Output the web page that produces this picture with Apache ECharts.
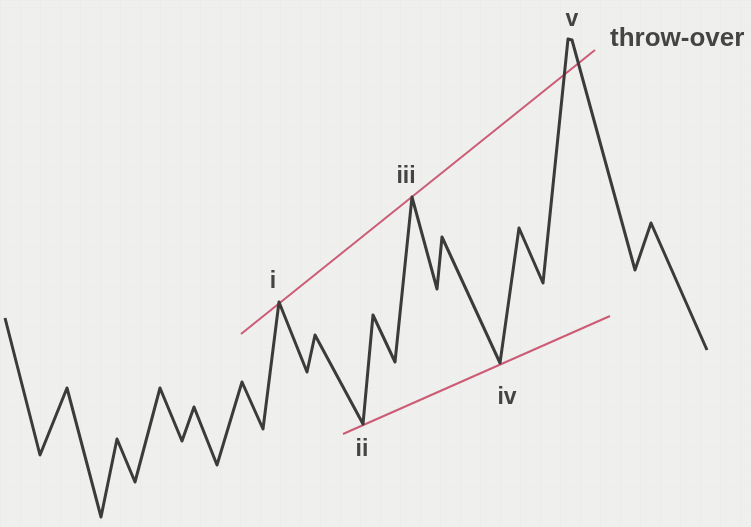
<!DOCTYPE html>
<html>
<head>
<meta charset="utf-8">
<script src="https://cdn.jsdelivr.net/npm/echarts@6/dist/echarts.min.js"></script>
<style>
  html, body { margin: 0; padding: 0; background: #efefed; }
  #chart { width: 751px; height: 527px; }
</style>
</head>
<body>
<div id="chart"></div>
<script>
// wave path: time / price
const waveTime = [5, 40, 67, 101, 117, 135, 160, 182, 194, 217, 242, 263, 279, 307, 315, 363, 373, 395, 412, 437, 442, 500, 519, 543, 568, 572, 635, 651, 707]
const wavePrice = [209, 72, 139, 10, 88, 45, 139, 86, 120, 62, 145, 98, 225, 155, 192, 103, 212, 165, 330, 238, 290, 164, 299, 244, 488, 487, 257, 304, 177]

// channel lines (two end points each)
const upperTime = [241, 595]
const upperPrice = [193, 477]
const lowerTime = [343, 610]
const lowerPrice = [93, 211]

// wave labels
const labelText = ['i', 'ii', 'iii', 'iv', 'v']
const labelTime = [273, 362, 406, 507, 572]
const labelPrice = [245, 77, 350, 129, 507]

const noteText = 'throw-over'
const noteTime = 610
const notePrice = 488

const zip = (xs, ys) => xs.map((x, i) => [x, ys[i]])

const chart = echarts.init(document.getElementById('chart'))

const labelFont = {
  fontFamily: 'Liberation Sans',
  fontWeight: 'bold',
  color: '#444444',
  opacity: 1,
  textBorderWidth: 0
}

chart.setOption({
  animation: false,
  backgroundColor: '#efefed',
  grid: { left: 0, right: 0, top: 0, bottom: 0 },
  xAxis: {
    type: 'value',
    min: 0,
    max: 751,
    interval: 20,
    axisLine: { show: false },
    axisTick: { show: false },
    axisLabel: { show: false },
    splitLine: { lineStyle: { color: '#ebebe9', width: 1 } }
  },
  yAxis: {
    type: 'value',
    min: 0,
    max: 527,
    interval: 20,
    axisLine: { show: false },
    axisTick: { show: false },
    axisLabel: { show: false },
    splitLine: { lineStyle: { color: '#ededeb', width: 1 } }
  },
  series: [
    {
      name: 'upper',
      type: 'line',
      data: zip(upperTime, upperPrice),
      showSymbol: false,
      lineStyle: { color: '#cc5c76', width: 2 },
      z: 2
    },
    {
      name: 'lower',
      type: 'line',
      data: zip(lowerTime, lowerPrice),
      showSymbol: false,
      lineStyle: { color: '#cc5c76', width: 2 },
      z: 2
    },
    {
      name: 'wave',
      type: 'line',
      data: zip(waveTime, wavePrice),
      showSymbol: false,
      lineStyle: { color: '#3b3b3b', width: 3, join: 'round' },
      z: 3
    },
    {
      name: 'labels',
      type: 'scatter',
      symbolSize: 0,
      itemStyle: { opacity: 1 },
      data: labelText.map((t, i) => ({ name: t, value: [labelTime[i], labelPrice[i]] })),
      label: {
        show: true,
        position: 'inside',
        formatter: p => p.name,
        fontSize: 23,
        ...labelFont
      },
      z: 4
    },
    {
      name: 'note',
      type: 'scatter',
      symbolSize: 0,
      itemStyle: { opacity: 1 },
      data: [{ name: noteText, value: [noteTime, notePrice] }],
      label: {
        show: true,
        position: 'right',
        distance: 0,
        formatter: p => p.name,
        fontSize: 26,
        ...labelFont
      },
      z: 4
    }
  ]
})
</script>
</body>
</html>
